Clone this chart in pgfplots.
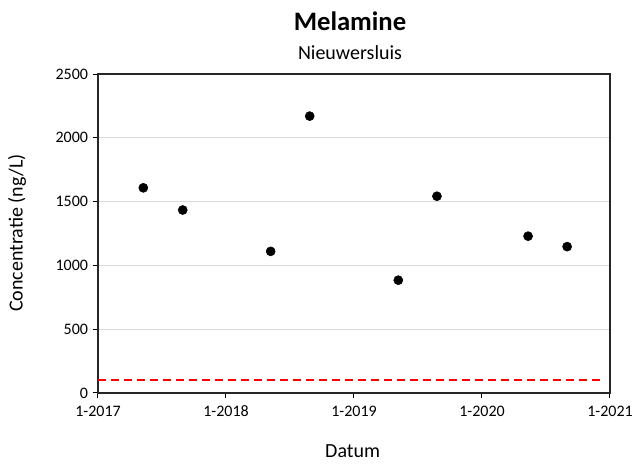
\documentclass[border=0pt]{standalone}
\usepackage{fontspec}
\setmainfont{Carlito}
\usepackage{pgfplots}
\pgfplotsset{compat=1.18}
\begin{document}
\begin{tikzpicture}
\path[use as bounding box] (-73.5pt,-53.25pt) rectangle (403.5pt,294.75pt);
\begin{axis}[
  scale only axis,
  width=384pt, height=239.25pt,
  xmin=2017, xmax=2021, ymin=0, ymax=2500,
  xtick={2017,2018,2019,2020,2021},
  xticklabels={1-2017,1-2018,1-2019,1-2020,1-2021},
  ytick={0,500,1000,1500,2000,2500},
  ymajorgrids,
  grid style={draw=black!15, line width=0.75pt},
  axis line style={black!85, line width=0.9pt},
  tick style={black, line width=0.75pt},
  tick align=outside, major tick length=4pt,
  tick pos=left,
  /pgf/number format/assume math mode=true,
  /pgf/number format/1000 sep={},
  ticklabel style={font=\fontsize{12}{14}\selectfont},
  xticklabel style={yshift=-2.25pt},
  clip=false,
]
\addplot[only marks, mark=*, mark size=3.4pt, black] coordinates {
  (2017.354,1608) (2017.662,1434) (2018.349,1110) (2018.654,2170)
  (2019.346,884) (2019.648,1542) (2020.360,1229) (2020.665,1147)
};
\addplot[red, line width=1.5pt, dash pattern=on 6pt off 3.75pt] coordinates {
  (2017,100) (2020.93,100)
};
\end{axis}
\node[anchor=base, font=\bfseries\fontsize{20}{24}\selectfont] at (189pt,271.75pt) {Melamine};
\node[anchor=base, font=\fontsize{15}{18}\selectfont] at (189pt,250.25pt) {Nieuwersluis};
\node[font=\fontsize{15}{18}\selectfont] at (191pt,-43.5pt) {Datum};
\node[rotate=90, font=\fontsize{15}{18}\selectfont] at (-60.75pt,120pt) {Concentratie (ng/L)};
\end{tikzpicture}
\end{document}
